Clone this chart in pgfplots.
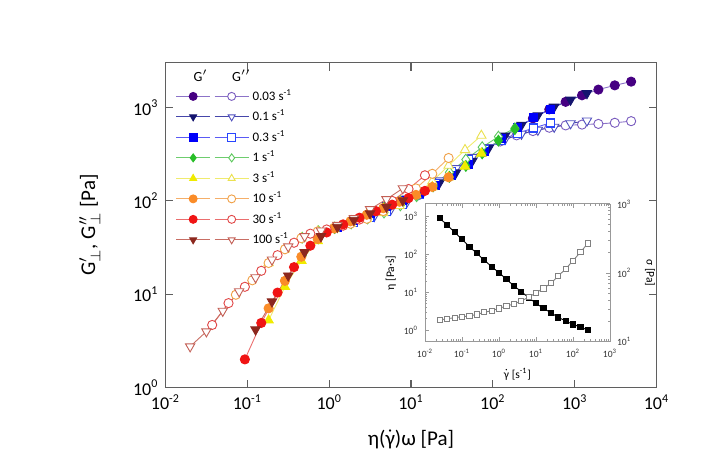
\documentclass[border=0pt]{standalone}
\usepackage{fontspec}
\setmainfont{Carlito}
\usepackage{amsmath}
\usepackage{pgfplots}
\pgfplotsset{compat=1.18}

\definecolor{mkA}{RGB}{70,0,130}\definecolor{lnA}{RGB}{140,115,200}\definecolor{opA}{RGB}{120,90,190}
\definecolor{mkB}{RGB}{20,20,110}\definecolor{lnB}{RGB}{70,70,170}\definecolor{opB}{RGB}{80,80,190}
\definecolor{mkC}{RGB}{0,0,250}\definecolor{lnC}{RGB}{90,90,245}\definecolor{opC}{RGB}{40,70,255}
\definecolor{mkD}{RGB}{40,190,40}\definecolor{lnD}{RGB}{110,205,110}\definecolor{opD}{RGB}{90,200,90}
\definecolor{mkE}{RGB}{240,235,0}\definecolor{lnE}{RGB}{240,235,110}\definecolor{opE}{RGB}{235,225,80}
\definecolor{mkF}{RGB}{250,140,40}\definecolor{lnF}{RGB}{245,175,105}\definecolor{opF}{RGB}{240,160,70}
\definecolor{mkG}{RGB}{240,20,20}\definecolor{lnG}{RGB}{235,110,110}\definecolor{opG}{RGB}{225,70,70}
\definecolor{mkH}{RGB}{140,40,30}\definecolor{lnH}{RGB}{200,110,100}\definecolor{opH}{RGB}{195,95,85}
\definecolor{axgray}{RGB}{95,95,95}

\pgfplotsset{
 sfA/.style={lnA, line width=0.45pt, mark=*, mark size=2.3pt, mark options={draw=mkA, fill=mkA}},
 soA/.style={lnA, line width=0.45pt, mark=*, mark size=2.3pt, mark options={draw=opA, fill=white}},
 sfB/.style={lnB, line width=0.45pt, mark=triangle*, mark size=2.7pt, mark options={draw=mkB, fill=mkB, rotate=180}},
 soB/.style={lnB, line width=0.45pt, mark=triangle*, mark size=2.7pt, mark options={draw=opB, fill=white, rotate=180}},
 sfC/.style={lnC, line width=0.45pt, mark=square*, mark size=2.0pt, mark options={draw=mkC, fill=mkC}},
 soC/.style={lnC, line width=0.45pt, mark=square*, mark size=2.0pt, mark options={draw=opC, fill=white, line width=0.6pt}},
 sfD/.style={lnD, line width=0.45pt, mark=diamond*, mark size=2.7pt, mark options={draw=mkD, fill=mkD}},
 soD/.style={lnD, line width=0.45pt, mark=diamond*, mark size=2.7pt, mark options={draw=opD, fill=white}},
 sfE/.style={lnE, line width=0.45pt, mark=triangle*, mark size=2.7pt, mark options={draw=mkE, fill=mkE}},
 soE/.style={lnE, line width=0.45pt, mark=triangle*, mark size=2.7pt, mark options={draw=opE, fill=white}},
 sfF/.style={lnF, line width=0.45pt, mark=*, mark size=2.3pt, mark options={draw=mkF, fill=mkF}},
 soF/.style={lnF, line width=0.45pt, mark=*, mark size=2.3pt, mark options={draw=opF, fill=white}},
 sfG/.style={lnG, line width=0.45pt, mark=*, mark size=2.3pt, mark options={draw=mkG, fill=mkG}},
 soG/.style={lnG, line width=0.45pt, mark=*, mark size=2.3pt, mark options={draw=opG, fill=white}},
 sfH/.style={lnH, line width=0.45pt, mark=triangle*, mark size=2.7pt, mark options={draw=mkH, fill=mkH, rotate=180}},
 soH/.style={lnH, line width=0.45pt, mark=triangle*, mark size=2.7pt, mark options={draw=opH, fill=white, rotate=180}},
}

\begin{document}
\begin{tikzpicture}
\useasboundingbox (0,0) rectangle (364pt,238pt);
\begin{axis}[
  at={(82.75pt,44.25pt)}, anchor=south west,
  scale only axis, width=245.5pt, height=162.5pt,
  xmode=log, ymode=log,
  xmin=0.01, xmax=10000, ymin=1, ymax=3040,
  xminorticks=false, yminorticks=false,
  tick align=inside, major tick length=4pt,
  axis line style={axgray, line width=0.8pt},
  every tick/.style={axgray, line width=0.6pt},
  xtick={0.01,0.1,1,10,100,1000,10000},
  xticklabels={10\textsuperscript{-2},10\textsuperscript{-1},10\textsuperscript{0},10\textsuperscript{1},10\textsuperscript{2},10\textsuperscript{3},10\textsuperscript{4}},
  ytick={1,10,100,1000},
  yticklabels={10\textsuperscript{0},10\textsuperscript{1},10\textsuperscript{2},10\textsuperscript{3}},
  tick label style={font=\fontsize{9}{10}\selectfont},
  xlabel={η($\dot{\text{γ}}$)ω [Pa]},
  ylabel={G$'_{\perp}$, G$''_{\perp}$ [Pa]},
  xlabel style={at={(axis description cs:0.5,-0.16)}, anchor=center, font=\fontsize{10.5}{12}\selectfont},
  ylabel style={at={(axis description cs:-0.154,0.5)}, rotate=0, anchor=center, font=\fontsize{10.5}{12}\selectfont},
  legend columns=2,
  legend style={draw=none, fill=none, at={(rel axis cs:0.02,0.978)}, anchor=north west,
    font=\fontsize{6.5}{7}\selectfont, inner sep=0pt, row sep=1.5pt, column sep=0pt,
    nodes={inner sep=0.9pt}},
  legend cell align=left,
  legend image code/.code={\draw[mark repeat=2,mark phase=2,#1] plot coordinates {(0pt,0pt) (8.5pt,0pt) (17pt,0pt)};},
  legend image post style={mark size=2pt},
]
% legend
\addlegendimage{legend image code/.code={\node[font=\fontsize{7}{8}\selectfont, inner sep=0pt] at (8.5pt,0pt) {G$'$};}}
\addlegendentry{}
\addlegendimage{legend image code/.code={\node[font=\fontsize{7}{8}\selectfont, inner sep=0pt] at (8.5pt,0pt) {G$''$};}}
\addlegendentry{}
\addlegendimage{sfA}\addlegendentry{}
\addlegendimage{soA}\addlegendentry{0.03 s\textsuperscript{-1}}
\addlegendimage{sfB}\addlegendentry{}
\addlegendimage{soB}\addlegendentry{0.1 s\textsuperscript{-1}}
\addlegendimage{sfC}\addlegendentry{}
\addlegendimage{soC}\addlegendentry{0.3 s\textsuperscript{-1}}
\addlegendimage{sfD}\addlegendentry{}
\addlegendimage{soD}\addlegendentry{1 s\textsuperscript{-1}}
\addlegendimage{sfE}\addlegendentry{}
\addlegendimage{soE}\addlegendentry{3 s\textsuperscript{-1}}
\addlegendimage{sfF}\addlegendentry{}
\addlegendimage{soF}\addlegendentry{10 s\textsuperscript{-1}}
\addlegendimage{sfG}\addlegendentry{}
\addlegendimage{soG}\addlegendentry{30 s\textsuperscript{-1}}
\addlegendimage{sfH}\addlegendentry{}
\addlegendimage{soH}\addlegendentry{100 s\textsuperscript{-1}}

% 0.03 s^-1
\addplot[soA, forget plot] coordinates {(12.3,115) (19.5,151) (30.9,203) (49.0,272) (77.6,351) (123,433) (195,504) (309,560) (490,608) (776,644) (1230,657) (1950,668) (3090,687) (4898,715)};
\addplot[sfA, forget plot] coordinates {(12.3,119) (19.5,146) (30.9,186) (49.0,245) (77.6,333) (123,455) (195,602) (309,767) (490,956) (776,1152) (1230,1354) (1950,1558) (3090,1730) (4898,1897)};
% 0.1 s^-1
\addplot[soB, forget plot] coordinates {(3.55,68.4) (5.62,79.9) (8.91,97.2) (14.1,124) (22.4,165) (35.5,223) (56.2,295) (89.1,376) (141,457) (224,522) (355,575) (562,620) (891,676) (1413,724)};
\addplot[sfB, forget plot] coordinates {(3.55,76.3) (5.62,89.7) (8.91,105) (14.1,126) (22.4,157) (35.5,201) (56.2,268) (89.1,367) (141,498) (224,649) (355,822) (562,1017) (891,1209) (1413,1421)};
% 0.3 s^-1
\addplot[soC, forget plot] coordinates {(1.26,52.5) (2.00,58.2) (3.16,66.1) (5.01,76.7) (7.94,92.3) (12.6,116) (20.0,153) (31.6,207) (50.1,275) (79.4,355) (126,447) (200,531) (316,603) (501,684)};
\addplot[sfC, forget plot] coordinates {(1.26,52.5) (2.00,62.4) (3.16,73.3) (5.01,86.1) (7.94,101) (12.6,120) (20.0,148) (31.6,188) (50.1,248) (79.4,339) (126,462) (200,610) (316,776) (501,966)};
% 1 s^-1
\addplot[soD, forget plot] coordinates {(0.468,40.3) (0.741,47.2) (1.17,51.8) (1.86,57.3) (2.95,64.7) (4.68,75.0) (7.41,89.5) (11.7,112) (18.6,147) (29.5,202) (46.8,277) (74.1,376) (117,488) (186,600)};
\addplot[sfD, forget plot] coordinates {(0.468,25.9) (0.741,39.7) (1.17,51.1) (1.86,60.9) (2.95,71.5) (4.68,84.1) (7.41,98.7) (11.7,117) (18.6,143) (29.5,181) (46.8,237) (74.1,323) (117,442) (186,587)};
% 3 s^-1
\addplot[soE, forget plot] coordinates {(0.182,21.6) (0.288,30.3) (0.457,39.8) (0.724,47.0) (1.15,51.5) (1.82,56.9) (2.88,64.3) (4.57,74.3) (7.24,88.5) (11.5,116) (18.2,162) (28.8,239) (45.7,352) (72.4,501)};
\addplot[sfE, forget plot] coordinates {(0.182,5.25) (0.288,12.0) (0.457,22.9) (0.724,37.2) (1.15,50.1) (1.82,60.4) (2.88,71.0) (4.57,83.4) (7.24,97.9) (11.5,116) (18.2,141) (28.8,179) (45.7,234) (72.4,323)};
% 10 s^-1
\addplot[soF, forget plot] coordinates {(0.0724,9.86) (0.115,14.1) (0.182,21.6) (0.288,30.3) (0.457,39.8) (0.724,47.0) (1.15,51.5) (1.82,56.9) (2.88,64.3) (4.57,77.8) (7.24,99.3) (11.5,136) (18.2,195) (28.8,288)};
\addplot[sfF, forget plot] coordinates {(0.182,7.05) (0.288,13.9) (0.457,25.2) (0.724,39.1) (1.15,50.6) (1.82,60.4) (2.88,71.0) (4.57,83.4) (7.24,97.9) (11.5,116) (18.2,141) (28.8,179)};
% 30 s^-1
\addplot[soG, forget plot] coordinates {(0.0372,4.68) (0.0589,8.02) (0.0933,12.0) (0.148,17.8) (0.234,26.2) (0.372,35.6) (0.589,44.5) (0.933,49.4) (1.48,54.2) (2.34,63.1) (3.72,77.6) (5.89,100) (9.33,134) (14.8,188)};
\addplot[sfG, forget plot] coordinates {(0.0933,2.0) (0.148,4.92) (0.234,10.4) (0.372,19.5) (0.589,33.1) (0.933,45.9) (1.48,56.0) (2.34,66.0) (3.72,77.5) (5.89,91.1) (9.33,107) (14.8,128)};
% 100 s^-1
\addplot[soH, forget plot] coordinates {(0.0200,2.75) (0.0316,3.98) (0.0501,6.61) (0.0794,10.7) (0.126,15.1) (0.200,23.4) (0.316,32.4) (0.501,41.7) (0.794,47.9) (1.26,55.0) (2.00,65.3) (3.16,81.3) (5.01,104) (7.94,136)};
\addplot[sfH, forget plot] coordinates {(0.126,4.17) (0.200,8.32) (0.316,15.8) (0.501,28.2) (0.794,41.7) (1.26,52.5) (2.00,62.4) (3.16,73.3) (5.01,86.1) (7.94,101)};
\end{axis}

% inset: viscosity (left axis)
\begin{axis}[
  at={(212.5pt,67.15pt)}, anchor=south west,
  scale only axis, width=92.5pt, height=68.85pt,
  xmode=log, ymode=log,
  xmin=0.01, xmax=1000, ymin=0.49, ymax=2165,
  axis y line=left, axis line style={-, gray!80, line width=0.5pt},
  axis background/.style={fill=white},
  tick align=inside, major tick length=2.2pt, minor tick length=1.2pt,
  every tick/.style={gray!80, line width=0.3pt},
  xtick={0.01,0.1,1,10,100,1000},
  xticklabels={10\textsuperscript{-2},10\textsuperscript{-1},10\textsuperscript{0},10\textsuperscript{1},10\textsuperscript{2},10\textsuperscript{3}},
  ytick={1,10,100,1000},
  yticklabels={10\textsuperscript{0},10\textsuperscript{1},10\textsuperscript{2},10\textsuperscript{3}},
  tick label style={font=\fontsize{4.8}{5.5}\selectfont, text=black!80},
  xlabel={$\dot{\text{γ}}$ [s\textsuperscript{-1}]},
  ylabel={η [Pa·s]},
  xlabel style={at={(axis description cs:0.5,-0.14)}, anchor=north, font=\fontsize{5.8}{6.5}\selectfont},
  ylabel style={yshift=-3pt, font=\fontsize{5.8}{6.5}\selectfont},
]
\addplot[black, line width=0.45pt, mark=square*, mark size=1.3pt, mark options={fill=black}] coordinates {
(0.0251,905) (0.0398,603) (0.0631,385) (0.1,251) (0.158,161) (0.251,107) (0.398,71) (0.631,47.5) (1,33) (1.58,22) (2.51,14.9) (3.98,10.4) (6.31,7.2) (10,5.08) (15.8,3.75) (25.1,2.88) (39.8,2.16) (63.1,1.73) (100,1.41) (158,1.2) (251,1.0)};
\end{axis}

% inset: stress (right axis)
\begin{axis}[
  at={(212.5pt,67.15pt)}, anchor=south west,
  scale only axis, width=92.5pt, height=68.85pt,
  xmode=log, ymode=log,
  xmin=0.01, xmax=1000, ymin=10, ymax=1000,
  axis x line=none, axis y line=right, axis line style={-, gray!80, line width=0.5pt},
  yticklabel pos=right,
  tick align=inside, major tick length=2.2pt, minor tick length=1.2pt,
  every tick/.style={gray!80, line width=0.3pt},
  ytick={10,100,1000},
  yticklabels={10\textsuperscript{1},10\textsuperscript{2},10\textsuperscript{3}},
  tick label style={font=\fontsize{4.8}{5.5}\selectfont, text=black!80},
  ylabel={σ [Pa]},
  ylabel style={rotate=180, font=\fontsize{5.8}{6.5}\selectfont},
]
\addplot[gray, line width=0.45pt, mark=square*, mark size=1.3pt, mark options={fill=white, draw=gray}] coordinates {
(0.0251,20.7) (0.0398,21.6) (0.0631,22.3) (0.1,23.1) (0.158,23.6) (0.251,24.9) (0.398,26.7) (0.631,28.2) (1,30.5) (1.58,33.0) (2.51,35.2) (3.98,39.0) (6.31,44.1) (10,51.5) (15.8,59.5) (25.1,70.4) (39.8,89.9) (63.1,114) (100,150) (158,199) (251,268)};
\end{axis}
\end{tikzpicture}
\end{document}
